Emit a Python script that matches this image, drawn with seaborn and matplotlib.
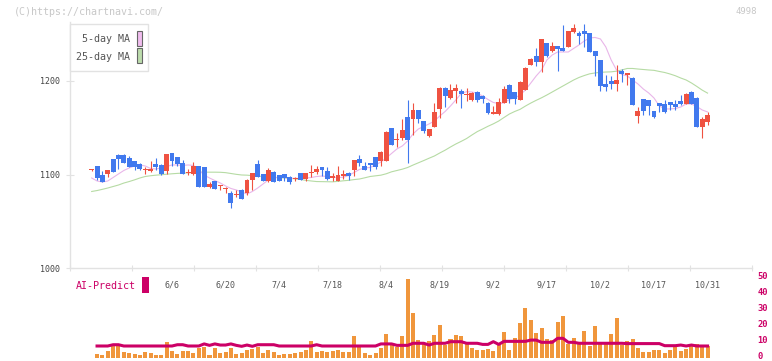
import numpy as np
import pandas as pd
import seaborn as sns
import matplotlib.pyplot as plt
import matplotlib.transforms as mtransforms
from matplotlib.patches import Rectangle

# daily candles (2025-05-16 .. 2025-10-31)
opens = [1104.5, 1109.0, 1099.6, 1100.7, 1116.7, 1120.9, 1121.0, 1118.0, 1114.5, 1111.7,
         1104.5, 1103.6, 1111.3, 1110.3, 1104.2, 1123.1, 1118.8, 1112.7, 1102.0, 1100.7,
         1109.2, 1107.8, 1086.5, 1093.2, 1088.2, 1085.0, 1080.4, 1078.0, 1083.6, 1080.0,
         1094.6, 1111.3, 1100.7, 1093.2, 1102.5, 1099.6, 1100.7, 1097.5, 1095.4, 1101.7,
         1095.0, 1101.4, 1102.5, 1107.8, 1103.9, 1096.8, 1093.2, 1099.0, 1101.4, 1105.0,
         1116.7, 1109.2, 1112.4, 1119.1, 1114.5, 1114.5, 1149.8, 1136.8, 1139.0, 1161.2,
         1159.4, 1169.0, 1157.2, 1141.2, 1151.2, 1170.4, 1192.5, 1181.5, 1189.6, 1189.0,
         1184.7, 1179.7, 1188.2, 1183.9, 1176.5, 1165.2, 1164.4, 1176.8, 1195.2, 1188.0,
         1179.7, 1190.4, 1217.0, 1227.0, 1220.6, 1240.2, 1232.0, 1237.3, 1234.9, 1236.3,
         1252.3, 1251.2, 1253.4, 1251.2, 1232.0, 1222.4, 1196.4, 1200.0, 1196.4, 1211.0,
         1206.8, 1203.5, 1162.6, 1180.7, 1179.7, 1167.9, 1176.1, 1175.1, 1177.2, 1175.4,
         1179.0, 1175.4, 1188.5, 1182.1, 1151.2, 1156.5]
highs = [1106.0, 1109.5, 1103.9, 1104.9, 1117.0, 1121.5, 1121.5, 1119.9, 1115.0, 1112.0,
         1108.5, 1114.5, 1118.0, 1111.0, 1122.5, 1123.5, 1119.0, 1115.6, 1105.7, 1113.8,
         1109.5, 1108.0, 1092.5, 1093.5, 1089.0, 1087.0, 1082.0, 1083.6, 1085.0, 1094.8,
         1102.0, 1115.6, 1101.0, 1106.7, 1104.0, 1100.0, 1101.0, 1098.0, 1097.5, 1102.0,
         1101.9, 1110.3, 1109.2, 1108.0, 1107.8, 1102.0, 1109.2, 1105.0, 1102.8, 1115.8,
         1121.0, 1113.8, 1112.6, 1119.3, 1124.7, 1146.9, 1150.0, 1144.8, 1159.2, 1180.0,
         1176.8, 1169.5, 1157.5, 1149.0, 1176.8, 1193.0, 1193.0, 1196.7, 1196.7, 1191.0,
         1192.2, 1188.0, 1189.6, 1184.5, 1177.0, 1173.6, 1181.5, 1195.0, 1196.7, 1188.5,
         1200.0, 1214.5, 1224.8, 1234.8, 1245.0, 1240.5, 1241.2, 1237.5, 1259.7, 1253.6,
         1260.8, 1253.4, 1260.5, 1251.5, 1232.3, 1222.6, 1206.4, 1205.6, 1217.0, 1212.8,
         1208.8, 1203.8, 1171.9, 1181.0, 1180.0, 1168.2, 1176.4, 1179.7, 1177.5, 1179.7,
         1185.0, 1187.5, 1188.8, 1182.4, 1161.8, 1166.5]
lows = [1103.5, 1094.3, 1092.5, 1097.8, 1103.0, 1106.0, 1112.0, 1108.0, 1105.0, 1104.5,
        1100.5, 1103.0, 1105.0, 1100.0, 1100.3, 1109.2, 1109.5, 1100.5, 1099.3, 1099.6,
        1087.0, 1087.0, 1085.4, 1084.5, 1083.6, 1080.7, 1064.4, 1075.8, 1073.5, 1078.3,
        1083.6, 1097.0, 1093.0, 1091.8, 1092.0, 1093.0, 1093.5, 1090.4, 1093.2, 1094.0,
        1093.5, 1097.2, 1100.3, 1098.5, 1094.3, 1093.5, 1093.0, 1095.0, 1094.3, 1098.5,
        1109.2, 1105.0, 1104.0, 1106.3, 1109.2, 1114.0, 1131.4, 1129.2, 1137.0, 1112.7,
        1142.3, 1154.7, 1144.8, 1140.5, 1150.5, 1160.0, 1172.5, 1181.0, 1176.1, 1171.5,
        1179.0, 1179.0, 1177.9, 1176.8, 1164.7, 1164.4, 1164.0, 1176.5, 1176.1, 1175.0,
        1179.5, 1190.0, 1216.5, 1216.3, 1209.3, 1225.9, 1230.6, 1211.0, 1232.0, 1236.0,
        1250.9, 1239.1, 1236.6, 1231.0, 1205.6, 1189.3, 1189.3, 1191.4, 1189.6, 1199.2,
        1195.7, 1174.0, 1154.8, 1163.7, 1163.7, 1160.8, 1166.5, 1165.5, 1169.0, 1169.0,
        1174.3, 1175.0, 1175.0, 1151.0, 1139.5, 1153.0]
closes = [1105.0, 1096.7, 1092.5, 1104.9, 1103.2, 1116.7, 1112.1, 1108.5, 1108.5, 1106.0,
          1105.0, 1106.0, 1108.5, 1100.3, 1122.0, 1114.5, 1111.3, 1100.7, 1102.5, 1109.2,
          1087.1, 1087.1, 1090.0, 1084.7, 1088.6, 1085.4, 1069.7, 1078.3, 1074.0, 1094.6,
          1101.7, 1097.5, 1093.5, 1104.9, 1092.5, 1093.5, 1096.7, 1091.8, 1095.7, 1094.3,
          1101.7, 1101.7, 1106.0, 1104.6, 1095.0, 1097.1, 1099.6, 1099.3, 1098.5, 1115.6,
          1112.7, 1105.0, 1110.6, 1107.8, 1124.5, 1145.8, 1131.6, 1137.0, 1147.6, 1137.0,
          1169.0, 1159.4, 1146.9, 1148.7, 1166.9, 1192.5, 1184.0, 1190.4, 1192.5, 1186.1,
          1185.0, 1187.5, 1179.7, 1181.0, 1166.1, 1165.5, 1177.5, 1191.5, 1180.4, 1180.4,
          1199.2, 1214.2, 1223.4, 1220.6, 1244.8, 1227.0, 1237.3, 1234.5, 1232.3, 1253.4,
          1256.2, 1248.3, 1250.5, 1231.3, 1227.0, 1195.0, 1193.5, 1197.0, 1201.0, 1207.1,
          1207.1, 1174.3, 1168.0, 1168.0, 1173.6, 1161.5, 1173.6, 1166.5, 1174.3, 1172.5,
          1175.0, 1186.1, 1175.4, 1151.2, 1159.0, 1163.7]

ma5 = [1096.4, 1093.2, 1092.1, 1093.2, 1096.9, 1100.7, 1104.4, 1107.1, 1109.2, 1110.3,
       1109.2, 1106.5, 1106.0, 1107.1, 1108.7, 1110.3, 1110.3, 1109.8, 1110.3, 1109.8,
       1105.0, 1099.6, 1096.4, 1093.7, 1091.1, 1087.9, 1085.2, 1083.6, 1081.5, 1079.3,
       1082.0, 1085.7, 1090.0, 1094.3, 1096.4, 1097.2, 1096.9, 1096.1, 1096.1, 1095.9,
       1096.4, 1096.9, 1098.0, 1098.5, 1098.0, 1097.2, 1096.9, 1097.2, 1099.1, 1102.3,
       1105.5, 1107.1, 1107.6, 1110.3, 1113.5, 1117.8, 1122.6, 1127.4, 1130.6, 1135.9,
       1143.4, 1148.7, 1151.4, 1154.1, 1157.3, 1162.6, 1167.4, 1173.3, 1179.7, 1186.6,
       1188.5, 1188.2, 1186.8, 1183.9, 1180.2, 1177.0, 1175.9, 1176.5, 1180.2, 1181.8,
       1185.0, 1190.4, 1197.8, 1205.3, 1211.7, 1222.4, 1227.7, 1230.9, 1230.9, 1230.9,
       1234.7, 1238.4, 1242.7, 1245.9, 1246.4, 1244.8, 1236.3, 1222.4, 1211.7, 1206.9,
       1205.3, 1201.0, 1196.8, 1191.4, 1187.2, 1181.8, 1173.3, 1170.1, 1170.1, 1170.6,
       1172.2, 1175.4, 1175.4, 1172.7, 1169.0, 1166.9]
ma25 = [1082.0, 1083.0, 1084.3, 1085.7, 1087.3, 1088.9, 1091.0, 1092.6, 1094.4, 1096.4,
        1098.0, 1098.8, 1099.4, 1099.9, 1100.4, 1100.9, 1101.3, 1101.6, 1101.9, 1102.2,
        1102.5, 1102.6, 1102.6, 1102.6, 1102.5, 1102.1, 1101.2, 1100.3, 1099.6, 1099.4,
        1098.9, 1098.5, 1097.9, 1097.4, 1097.1, 1096.8, 1096.4, 1096.0, 1095.5, 1094.8,
        1093.9, 1093.2, 1092.6, 1092.5, 1092.4, 1092.3, 1092.8, 1093.4, 1093.9, 1094.7,
        1095.3, 1096.6, 1098.0, 1098.7, 1099.4, 1100.9, 1103.0, 1104.4, 1105.8, 1107.6,
        1110.2, 1112.6, 1115.0, 1117.5, 1119.9, 1123.1, 1126.1, 1129.5, 1132.7, 1135.5,
        1138.5, 1142.3, 1145.9, 1148.7, 1151.6, 1154.2, 1157.2, 1161.0, 1164.7, 1167.4,
        1169.7, 1173.2, 1176.4, 1179.3, 1182.0, 1185.0, 1188.2, 1191.4, 1194.6, 1197.8,
        1201.0, 1203.7, 1205.8, 1207.6, 1208.5, 1209.2, 1209.5, 1209.7, 1210.4, 1211.7,
        1213.3, 1213.3, 1212.7, 1212.2, 1211.7, 1211.3, 1210.1, 1209.0, 1207.4, 1205.5,
        1203.1, 1201.0, 1197.8, 1194.1, 1190.2, 1187.0]

# volume panel (no bar for the first day)
volume = [np.nan, 2.5, 1.9, 4.4, 7.5, 7.5, 3.5, 2.9, 2.5, 1.9,
          3.5, 2.9, 1.9, 1.9, 10.0, 4.4, 2.5, 4.4, 4.4, 3.1,
          6.5, 7.1, 1.9, 6.2, 3.1, 3.8, 6.2, 2.5, 3.1, 5.0,
          5.8, 7.1, 3.1, 5.0, 3.8, 1.9, 2.5, 2.5, 3.1, 3.8,
          5.0, 10.6, 3.8, 4.4, 3.8, 4.4, 5.0, 3.8, 3.8, 13.8,
          7.5, 3.1, 1.9, 3.1, 6.2, 15.0, 8.0, 6.9, 13.8, 49.4,
          28.1, 11.2, 8.8, 10.6, 14.4, 20.6, 8.1, 11.9, 14.4, 13.8,
          9.4, 6.2, 5.0, 5.0, 5.6, 4.4, 8.1, 16.2, 5.0, 12.5,
          21.9, 31.2, 23.8, 15.6, 18.8, 11.9, 11.2, 22.5, 26.2, 8.8,
          12.5, 9.4, 16.9, 7.5, 20.0, 9.4, 8.8, 15.0, 25.0, 8.1,
          10.6, 11.9, 6.2, 3.8, 3.8, 5.0, 5.0, 3.1, 5.0, 7.5,
          4.4, 5.6, 7.5, 8.8, 7.5, 7.5]
ai_predict = [np.nan, 7.5, 7.5, 7.5, 8.3, 8.3, 7.5, 7.5, 7.5, 7.5,
              7.5, 7.5, 7.5, 7.5, 7.5, 7.5, 8.3, 8.3, 7.5, 7.5,
              7.5, 8.8, 7.9, 8.8, 8.1, 8.1, 8.8, 7.9, 7.3, 8.1,
              7.3, 8.3, 8.3, 8.3, 8.3, 7.5, 7.5, 7.5, 7.5, 7.5,
              7.5, 7.5, 8.3, 7.5, 7.5, 7.5, 7.5, 7.5, 7.5, 7.5,
              7.5, 7.5, 7.5, 7.5, 8.8, 8.8, 8.8, 7.9, 7.9, 7.9,
              9.2, 9.2, 9.2, 8.1, 9.2, 9.2, 9.2, 10.2, 10.2, 10.2,
              9.2, 9.2, 9.2, 8.5, 8.5, 10.2, 8.5, 10.4, 10.4, 10.4,
              10.4, 10.4, 11.2, 11.2, 9.8, 9.8, 9.8, 12.3, 12.3, 9.8,
              9.8, 9.2, 9.2, 9.2, 9.2, 9.2, 9.2, 9.2, 9.2, 9.2,
              9.0, 9.0, 9.0, 9.0, 9.0, 9.0, 9.0, 7.7, 7.7, 7.7,
              8.1, 7.5, 8.1, 7.5, 7.5, 7.5]

tick_labels = ["6/6", "6/20", "7/4", "7/18", "8/4", "8/19", "9/2", "9/17", "10/2", "10/17", "10/31"]
tick_idx = [15, 25, 35, 45, 55, 65, 75, 85, 95, 105, 115]

UP, DOWN = "#ef5241", "#4179ee"
PINK, GREEN = "#e9b6e9", "#b6dba4"
ORANGE, CRIMSON = "#f0963c", "#cc0066"
GRID = "#e2e2e2"

df = pd.DataFrame({"open": opens, "high": highs, "low": lows, "close": closes,
                   "ma5": ma5, "ma25": ma25, "vol": volume, "ai": ai_predict})
df["idx"] = np.arange(len(df))
df["color"] = np.where(df["close"] >= df["open"], UP, DOWN)
df["lo"] = df[["open", "close"]].min(axis=1)
df["hgt"] = (df["close"] - df["open"]).abs().clip(lower=1.2)

plt.rcParams["font.family"] = "DejaVu Sans Mono"
W, H = 772, 361
fig = plt.figure(figsize=(W / 100, H / 100), dpi=100)
ax = fig.add_axes([70 / W, 1 - 268.3 / H, 682 / W, 246.3 / H])
vax = fig.add_axes([70 / W, 1 - 358 / H, 682 / W, 80 / H])

# moving averages under the candles
sns.lineplot(x=df["idx"], y=df["ma25"], ax=ax, color=GREEN, linewidth=0.8, zorder=1)
sns.lineplot(x=df["idx"], y=df["ma5"], ax=ax, color=PINK, linewidth=0.8, zorder=1)

ax.vlines(df["idx"], df["low"], df["high"], colors=df["color"], linewidth=0.8, zorder=2)
ax.bar(df["idx"], df["hgt"], bottom=df["lo"], width=0.92, color=df["color"],
       linewidth=0, zorder=3)

xlim = (-4.05, 123.3)
ax.set_xlim(xlim)
ax.set_ylim(1000, 1262.9)
ax.set_xlabel("")
ax.set_ylabel("")
for s in ["top", "right"]:
    ax.spines[s].set_visible(False)
for s in ["left", "bottom"]:
    ax.spines[s].set_color(GRID)
    ax.spines[s].set_linewidth(1)
ax.set_yticks([1000, 1100, 1200])
ax.tick_params(axis="y", direction="inout", length=6, width=0.8, color=GRID,
               labelsize=6, labelcolor="#444444", pad=4)
ax.set_xticks(tick_idx)
ax.set_xticklabels(tick_labels)
ax.set_xticks(np.linspace(xlim[0], xlim[1], 12), minor=True)
ax.tick_params(axis="x", which="major", length=0, labelsize=6, labelcolor="#555555", pad=8.5)
ax.tick_params(axis="x", which="minor", direction="inout", length=5, width=0.8, color=GRID)

# volume + AI-Predict line
vdf = df.dropna(subset=["vol"])
sns.barplot(x=vdf["idx"], y=vdf["vol"], ax=vax, native_scale=True, color=ORANGE,
            saturation=1, width=0.75, linewidth=0, errorbar=None)
sns.lineplot(x=vdf["idx"], y=vdf["ai"], ax=vax, color=CRIMSON, linewidth=2.2, zorder=5)
vax.set_xlim(xlim)
vax.set_ylim(0, 50)
vax.set_xlabel("")
vax.set_ylabel("")
for s in vax.spines.values():
    s.set_visible(False)
vax.set_xticks([])
vax.yaxis.tick_right()
vax.set_yticks([0, 10, 20, 30, 40, 50])
vax.tick_params(axis="y", length=0, labelsize=6.3, labelcolor=CRIMSON, pad=4)
lift = mtransforms.ScaledTranslation(0, 1.5 / 72, fig.dpi_scale_trans)
for t in vax.get_yticklabels():
    t.set_fontweight("bold")
    t.set_transform(t.get_transform() + lift)
vax.patch.set_alpha(0)


def fx(x):
    return x / W


def fy(y):
    return 1 - y / H


fig.text(fx(14), fy(12), "(C)https://chartnavi.com/", color="#c8c8c8", fontsize=7.2,
         ha="left", va="center")
fig.text(fx(757), fy(12), "4998", color="#c8c8c8", fontsize=6.5, ha="right", va="center")

fig.add_artist(Rectangle((fx(70), fy(71)), 78 / W, 47 / H, transform=fig.transFigure,
                         facecolor="white", edgecolor=GRID, linewidth=1, zorder=5))
fig.text(fx(130), fy(39), "5-day MA", color="#555555", fontsize=7.2, ha="right",
         va="center", zorder=6)
fig.text(fx(130), fy(56.5), "25-day MA", color="#555555", fontsize=7.2, ha="right",
         va="center", zorder=6)
fig.add_artist(Rectangle((fx(136.5), fy(46)), 5.5 / W, 15 / H, transform=fig.transFigure,
                         facecolor="#f0bcee", edgecolor="#666666", linewidth=0.8, zorder=6))
fig.add_artist(Rectangle((fx(136.5), fy(63)), 5.5 / W, 15 / H, transform=fig.transFigure,
                         facecolor="#bcdcac", edgecolor="#666666", linewidth=0.8, zorder=6))

fig.text(fx(76), fy(286), "AI-Predict", color=CRIMSON, fontsize=7.2, ha="left", va="center")
fig.add_artist(Rectangle((fx(142), fy(293)), 6.5 / W, 16 / H, transform=fig.transFigure,
                         facecolor=CRIMSON, edgecolor="none"))

fig.savefig("out.png", dpi=100)
